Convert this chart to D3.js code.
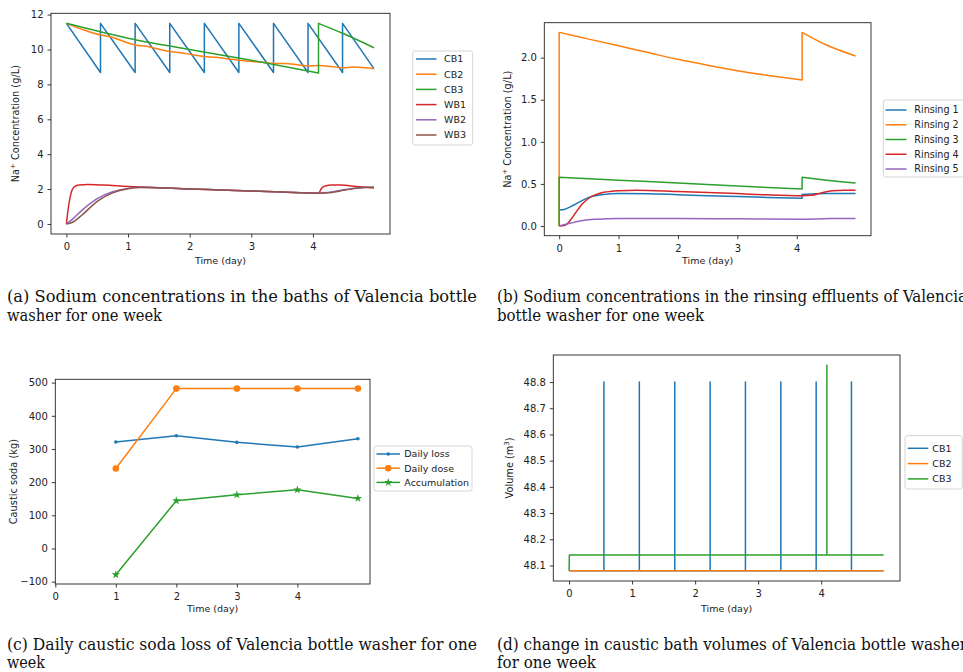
<!DOCTYPE html>
<html><head><meta charset="utf-8">
<script src="https://cdn.jsdelivr.net/npm/d3@7"></script>
<style>
body{margin:0;background:#fff}
svg{display:block}
text{font-family:'DejaVu Sans',sans-serif}
.cap{font-family:'DejaVu Serif Condensed','DejaVu Serif',serif;font-stretch:condensed;fill:#111}
</style>
</head><body>
<svg id="c" width="963" height="672"></svg>
<script>
// ---------------- DATA ----------------
const dayTicks = [0, 1, 2, 3, 4];
const concTicksA = [0, 2, 4, 6, 8, 10, 12];
const concTicksB = [0, 0.5, 1.0, 1.5, 2.0];
const sodaTicks = [-100, 0, 100, 200, 300, 400, 500];
const volTicks = [48.1, 48.2, 48.3, 48.4, 48.5, 48.6, 48.7, 48.8];

// (a) bath concentrations [day, g/L]
const bathNames = ["CB1", "CB2", "CB3", "WB1", "WB2", "WB3"];
const cb1Conc = [[0,11.5],[0.553,8.68],[0.553,11.5],[1.115,8.68],[1.115,11.5],[1.677,8.68],[1.677,11.5],[2.238,8.68],[2.238,11.5],[2.798,8.68],[2.798,11.5],[3.36,8.68],[3.36,11.5],[3.92,8.68],[3.92,11.5],[4.48,8.68],[4.48,11.5],[4.99,8.9]];
const cb2Conc = [[0,11.5],[0.3,11.1],[0.553,10.83],[0.7,10.75],[0.9,10.5],[1.115,10.26],[1.3,10.18],[1.5,10.02],[1.677,9.88],[1.85,9.82],[2.05,9.7],[2.238,9.6],[2.42,9.55],[2.6,9.47],[2.798,9.38],[2.98,9.33],[3.18,9.27],[3.36,9.2],[3.55,9.2],[3.75,9.12],[3.92,9.06],[4.1,9.08],[4.3,9.02],[4.48,8.95],[4.66,9.0],[4.85,8.95],[4.99,8.9]];
const cb3Conc = [[0,11.5],[1,10.65],[2,10.0],[3,9.38],[4.09,8.65],[4.09,11.5],[4.5,10.9],[4.99,10.1]];
const wb1Conc = [[0,0],[0.03,0.9],[0.07,1.7],[0.12,2.1],[0.2,2.24],[0.35,2.26],[0.6,2.23],[1,2.15],[1.5,2.08],[2,2.01],[2.5,1.95],[3,1.89],[3.5,1.83],[4.08,1.77],[4.1,1.8],[4.14,2.05],[4.2,2.18],[4.3,2.23],[4.45,2.23],[4.7,2.15],[4.99,2.06]];
const wb2Conc = [[0,0],[0.1,0.28],[0.25,0.78],[0.5,1.45],[0.75,1.85],[1,2.04],[1.2,2.1],[1.5,2.08],[2,2.01],[2.5,1.95],[3,1.89],[3.5,1.83],[4.1,1.77],[4.3,1.83],[4.5,1.96],[4.7,2.06],[4.85,2.1],[4.99,2.1]];
const wb3Conc = [[0,0],[0.1,0.1],[0.25,0.5],[0.5,1.3],[0.75,1.78],[1,2.02],[1.2,2.09],[1.5,2.08],[2,2.01],[2.5,1.95],[3,1.89],[3.5,1.83],[4.1,1.76],[4.3,1.8],[4.5,1.93],[4.7,2.04],[4.85,2.09],[4.99,2.1]];

// (b) rinsing effluent concentrations [day, g/L]
const rinseNames = ["Rinsing 1", "Rinsing 2", "Rinsing 3", "Rinsing 4", "Rinsing 5"];
const rinse1 = [[0,0.19],[0.1,0.2],[0.25,0.25],[0.5,0.34],[0.75,0.375],[1,0.385],[1.5,0.383],[2,0.372],[2.5,0.36],[3,0.35],[3.5,0.34],[4.09,0.33],[4.09,0.375],[4.5,0.385],[4.99,0.385]];
const rinse2 = [[0,0],[0,2.3],[0.5,2.22],[1,2.14],[1.5,2.06],[2,1.98],[2.5,1.91],[3,1.845],[3.5,1.79],[4.09,1.735],[4.09,2.3],[4.5,2.15],[4.99,2.02]];
const rinse3 = [[0,0],[0,0.58],[1,0.545],[2,0.51],[3,0.475],[4.09,0.44],[4.09,0.58],[4.5,0.545],[4.99,0.51]];
const rinse4 = [[0,0],[0.1,0.01],[0.2,0.08],[0.3,0.18],[0.4,0.27],[0.5,0.33],[0.75,0.4],[1,0.42],[1.3,0.425],[2,0.41],[3,0.385],[3.5,0.37],[4.09,0.36],[4.25,0.365],[4.4,0.39],[4.6,0.42],[4.8,0.425],[4.99,0.425]];
const rinse5 = [[0,0],[0.2,0.035],[0.4,0.065],[0.6,0.08],[0.8,0.087],[1,0.09],[2,0.09],[3,0.085],[4.09,0.08],[4.3,0.082],[4.6,0.089],[4.99,0.09]];

// (c) daily caustic soda [kg]
const sodaNames = ["Daily loss", "Daily dose", "Accumulation"];
const days = [1, 2, 3, 4, 5];
const dailyLoss = [321, 340, 320, 306, 331];
const dailyDose = [241, 482, 482, 482, 482];
const accumulation = [-79, 144, 162, 177, 151];

// (d) caustic bath volumes [day, m3]
const volNames = ["CB1", "CB2", "CB3"];
const cb1Vol = [[0,48.08],[0.553,48.08],[0.553,48.8],[0.553,48.08],[1.115,48.08],[1.115,48.8],[1.115,48.08],[1.677,48.08],[1.677,48.8],[1.677,48.08],[2.238,48.08],[2.238,48.8],[2.238,48.08],[2.798,48.08],[2.798,48.8],[2.798,48.08],[3.36,48.08],[3.36,48.8],[3.36,48.08],[3.92,48.08],[3.92,48.8],[3.92,48.08],[4.48,48.08],[4.48,48.8],[4.48,48.08],[4.99,48.08]];
const cb2Vol = [[0,48.08],[4.99,48.08]];
const cb3Vol = [[0,48.08],[0.005,48.14],[4.09,48.14],[4.09,48.864],[4.09,48.14],[4.99,48.14]];

const colors = ["#1f77b4", "#ff7f0e", "#2ca02c", "#d62728", "#9467bd", "#8c564b"];

// ---------------- DRAWING ----------------
const svg = d3.select("#c");

function buildPath(points, x, y, smooth) {
  const segs = [];
  let cur = [];
  points.forEach((p, i) => {
    if (i > 0 && p[0] === points[i - 1][0]) { segs.push(cur); cur = []; }
    cur.push(p);
  });
  segs.push(cur);
  const gen = d3.line().x(d => x(d[0])).y(d => y(d[1])).curve(smooth ? d3.curveMonotoneX : d3.curveLinear);
  return segs.map((s, i) => {
    let d = s.length === 1 ? `M${x(s[0][0])},${y(s[0][1])}` : gen(s);
    return i ? d.replace(/^M/, "L") : d;
  }).join("");
}

function marker(g, type, cx, cy, color) {
  if (type === "point") g.append("circle").attr("cx", cx).attr("cy", cy).attr("r", 1.8).attr("fill", color);
  else if (type === "circle") g.append("circle").attr("cx", cx).attr("cy", cy).attr("r", 3.3).attr("fill", color);
  else if (type === "star") g.append("path").attr("d", d3.symbol().type(d3.symbolStar).size(22)()).attr("transform", `translate(${cx},${cy})`).attr("fill", color);
}

function drawPanel(p) {
  const [x0, y0, x1, y1] = p.box;
  const x = d3.scaleLinear().domain(p.xdom).range([x0, x1]);
  const y = d3.scaleLinear().domain(p.ydom).range([y1, y0]);
  const cid = "clip" + p.id;
  svg.append("clipPath").attr("id", cid).append("rect").attr("x", x0).attr("y", y0).attr("width", x1 - x0).attr("height", y1 - y0);
  const g = svg.append("g").attr("clip-path", `url(#${cid})`);
  p.series.forEach(s => {
    g.append("path").attr("d", buildPath(s.points, x, y, s.smooth))
      .attr("fill", "none").attr("stroke", s.color).attr("stroke-width", 1.5)
      .attr("stroke-linejoin", "round");
  });
  const mg = svg.append("g");
  p.series.forEach(s => {
    if (s.marker) s.points.forEach(d => marker(mg, s.marker, x(d[0]), y(d[1]), s.color));
  });
  // spines
  svg.append("rect").attr("x", x0).attr("y", y0).attr("width", x1 - x0).attr("height", y1 - y0)
    .attr("fill", "none").attr("stroke", "#222").attr("stroke-width", 0.9);
  // axes
  const ax = svg.append("g").attr("transform", `translate(0,${y1})`)
    .call(d3.axisBottom(x).tickValues(p.xticks).tickSize(3.5).tickPadding(5.5).tickFormat(d3.format("d")));
  const ay = svg.append("g").attr("transform", `translate(${x0},0)`)
    .call(d3.axisLeft(y).tickValues(p.yticks).tickSize(3.5).tickPadding(4).tickFormat(p.yfmt));
  [ax, ay].forEach(a => {
    a.select(".domain").remove();
    a.selectAll("line").attr("stroke", "#222").attr("stroke-width", 0.9);
    a.selectAll("text").attr("font-size", 10).attr("fill", "#222").attr("font-family", "DejaVu Sans");
  });
  // axis labels
  svg.append("text").attr("x", (x0 + x1) / 2).attr("y", p.xlabelY).attr("text-anchor", "middle")
    .attr("font-size", 9.5).attr("fill", "#222").text("Time (day)");
  const yl = svg.append("text").attr("transform", `translate(${p.ylabelX},${(y0 + y1) / 2}) rotate(-90)`)
    .attr("text-anchor", "middle").attr("dy", "0.35em").attr("font-size", 9.8).attr("fill", "#222");
  p.ylabel.forEach(part => {
    const t = yl.append("tspan").text(part.t);
    if (part.sup) t.attr("font-size", 6.8).attr("dy", -4);
    if (part.after) t.attr("dy", 4);
  });
  // legend
  const L = p.legend;
  svg.append("rect").attr("x", L.x).attr("y", L.y).attr("width", L.w).attr("height", L.h).attr("rx", 2.5)
    .attr("fill", "#fff").attr("fill-opacity", 0.8).attr("stroke", "#d0d0d0").attr("stroke-width", 0.9);
  p.series.forEach((s, i) => {
    const yy = L.row0 + i * L.step;
    svg.append("line").attr("x1", L.hx0).attr("x2", L.hx1).attr("y1", yy).attr("y2", yy)
      .attr("stroke", s.color).attr("stroke-width", 1.5);
    if (s.marker) marker(svg, s.marker, (L.hx0 + L.hx1) / 2, yy, s.color);
    svg.append("text").attr("x", L.tx).attr("y", yy).attr("dy", "0.36em").attr("font-size", L.fs)
      .attr("fill", "#222").text(s.name);
  });
}

// (a)
drawPanel({
  id: "a", box: [51, 13.3, 390, 234], xdom: [-0.25, 5.25], ydom: [-0.575, 12.075],
  xticks: dayTicks, yticks: concTicksA, yfmt: d3.format("d"),
  xlabelY: 264, ylabelX: 16,
  ylabel: [{t: "Na"}, {t: "+", sup: true}, {t: " Concentration (g/L)", after: true}],
  series: [cb1Conc, cb2Conc, cb3Conc, wb1Conc, wb2Conc, wb3Conc].map((pts, i) => ({
    name: bathNames[i], points: pts, color: colors[i], smooth: i !== 0 })),
  legend: {x: 412.7, y: 51, w: 60, h: 94, row0: 59, step: 15.2, hx0: 416, hx1: 436.5, tx: 444, fs: 9.5}
});

// (b)
drawPanel({
  id: "b", box: [544.3, 22.7, 871, 235.7], xdom: [-0.25, 5.25], ydom: [-0.115, 2.415],
  xticks: dayTicks, yticks: concTicksB, yfmt: d3.format(".1f"),
  xlabelY: 264, ylabelX: 508,
  ylabel: [{t: "Na"}, {t: "+", sup: true}, {t: " Concentration (g/L)", after: true}],
  series: [rinse1, rinse2, rinse3, rinse4, rinse5].map((pts, i) => ({
    name: rinseNames[i], points: pts, color: colors[i], smooth: true })),
  legend: {x: 883.3, y: 100, w: 95, h: 77, row0: 110, step: 14.75, hx0: 885.5, hx1: 906.5, tx: 914.3, fs: 9.6}
});

// (c)
const sodaMarkers = ["point", "circle", "star"];
drawPanel({
  id: "c", box: [55.3, 379.3, 370, 584], xdom: [0, 5.2], ydom: [-107.05, 510.05],
  xticks: dayTicks, yticks: sodaTicks, yfmt: d => d < 0 ? "\u2212" + Math.abs(d) : String(d),
  xlabelY: 612, ylabelX: 14,
  ylabel: [{t: "Caustic soda (kg)"}],
  series: [dailyLoss, dailyDose, accumulation].map((vals, i) => ({
    name: sodaNames[i], points: days.map((d, j) => [d, vals[j]]), color: colors[i], smooth: false, marker: sodaMarkers[i] })),
  legend: {x: 374, y: 446, w: 98, h: 45, row0: 454, step: 14.2, hx0: 376.5, hx1: 400, tx: 404.3, fs: 9.5}
});

// (d)
drawPanel({
  id: "d", box: [553.3, 355, 900, 581], xdom: [-0.25, 5.25], ydom: [48.0408, 48.9032],
  xticks: dayTicks, yticks: volTicks, yfmt: d3.format(".1f"),
  xlabelY: 611.5, ylabelX: 510,
  ylabel: [{t: "Volume (m"}, {t: "3", sup: true}, {t: ")", after: true}],
  series: [cb1Vol, cb2Vol, cb3Vol].map((pts, i) => ({
    name: volNames[i], points: pts, color: colors[i], smooth: false })),
  legend: {x: 905, y: 435.7, w: 57.3, h: 53.3, row0: 448.3, step: 15.3, hx0: 907.7, hx1: 928.3, tx: 932.3, fs: 9.5}
});

// captions
const captions = [
  {x: 7, y: 302, w: 470, t: "(a) Sodium concentrations in the baths of Valencia bottle"},
  {x: 7, y: 321, w: 155, t: "washer for one week"},
  {x: 497, y: 302, w: 470, t: "(b) Sodium concentrations in the rinsing effluents of Valencia"},
  {x: 497, y: 321, w: 207, t: "bottle washer for one week"},
  {x: 7, y: 650, w: 470, t: "(c) Daily caustic soda loss of Valencia bottle washer for one"},
  {x: 7, y: 668, w: 38, t: "week"},
  {x: 497, y: 650, w: 470, t: "(d) change in caustic bath volumes of Valencia bottle washer"},
  {x: 497, y: 668, w: 99, t: "for one week"}
];
captions.forEach(c => {
  svg.append("text").attr("class", "cap").attr("x", c.x).attr("y", c.y).attr("font-size", 16)
    .attr("textLength", c.w).attr("lengthAdjust", "spacingAndGlyphs").text(c.t);
});
</script>
</body></html>
